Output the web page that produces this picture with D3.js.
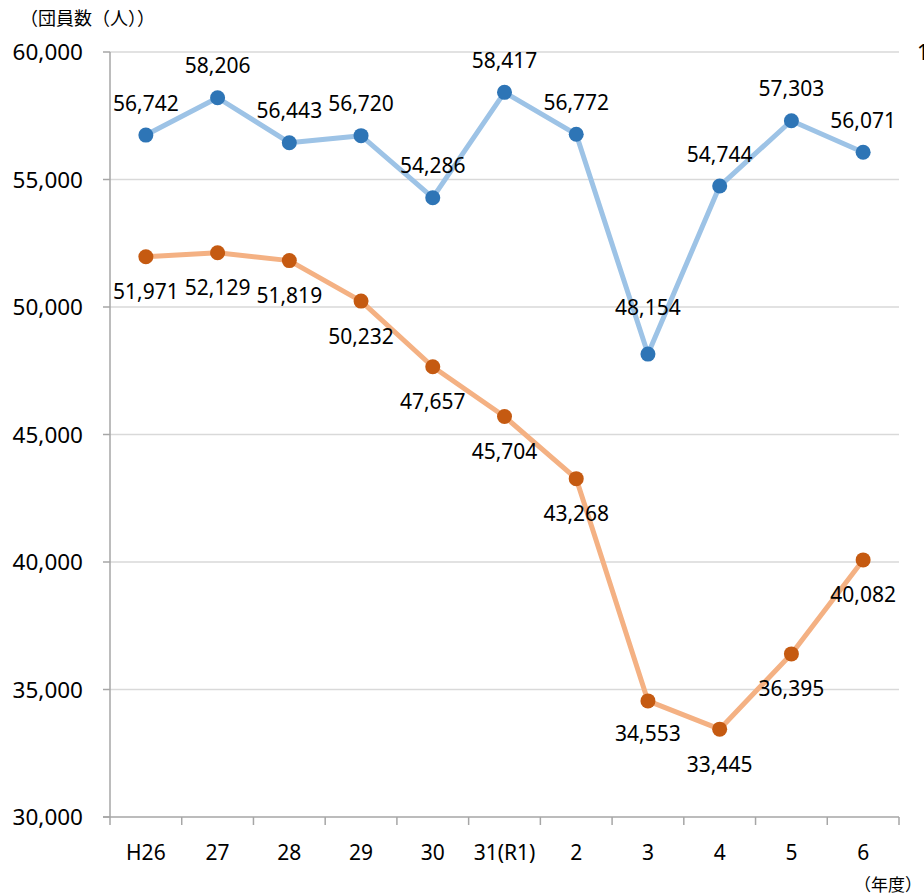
<!DOCTYPE html>
<html>
<head>
<meta charset="utf-8">
<script src="https://cdn.jsdelivr.net/npm/d3@7"></script>
<style>
    body { margin: 0; background: #ffffff; overflow: hidden; }
    text { font-family: "Noto Sans", "Noto Sans CJK JP", sans-serif; fill: #000000; }
</style>
</head>
<body>
<svg id="chartSVG" width="924" height="895"></svg>
<script>
var years = ["H26", "27", "28", "29", "30", "31(R1)", "2", "3", "4", "5", "6"];
var blueValues = [56742, 58206, 56443, 56720, 54286, 58417, 56772, 48154, 54744, 57303, 56071];
var orangeValues = [51971, 52129, 51819, 50232, 47657, 45704, 43268, 34553, 33445, 36395, 40082];
var yTicks = [30000, 35000, 40000, 45000, 50000, 55000, 60000];

var svg = d3.select("#chartSVG");
var venstre = 110, hoyre = 899, topp = 52, bunn = 817;

var x = d3.scaleBand().domain(years).range([venstre, hoyre]).paddingInner(0).paddingOuter(0);
var y = d3.scaleLinear().domain([30000, 60000]).range([bunn, topp]);
var fmt = d3.format(",");
var midt = function(d) { return x(d) + x.bandwidth() / 2; };

// gridlinjer
svg.selectAll(".grid")
    .data(yTicks.slice(1))
    .enter().append("line")
    .attr("x1", venstre)
    .attr("x2", hoyre)
    .attr("y1", function(d) { return y(d); })
    .attr("y2", function(d) { return y(d); })
    .attr("stroke", "#d9d9d9")
    .attr("stroke-width", 1.5);

// y-akse
svg.append("line")
    .attr("x1", venstre).attr("x2", venstre)
    .attr("y1", topp).attr("y2", bunn)
    .attr("stroke", "#a6a6a6").attr("stroke-width", 1.5);

svg.selectAll(".ytick")
    .data(yTicks)
    .enter().append("line")
    .attr("x1", venstre - 7).attr("x2", venstre)
    .attr("y1", function(d) { return y(d); })
    .attr("y2", function(d) { return y(d); })
    .attr("stroke", "#a6a6a6").attr("stroke-width", 1.5);

svg.selectAll(".ylabel")
    .data(yTicks)
    .enter().append("text")
    .attr("x", 83)
    .attr("y", function(d) { return y(d); })
    .attr("dy", "0.36em")
    .attr("text-anchor", "end")
    .style("font-size", "22.5px")
    .text(function(d) { return fmt(d); });

// x-akse
svg.append("line")
    .attr("x1", venstre - 7).attr("x2", hoyre)
    .attr("y1", bunn).attr("y2", bunn)
    .attr("stroke", "#a6a6a6").attr("stroke-width", 1.5);

var grenser = years.map(function(d) { return x(d); }).concat([x.range()[1]]);
svg.selectAll(".xtick")
    .data(grenser)
    .enter().append("line")
    .attr("x1", function(d) { return d; })
    .attr("x2", function(d) { return d; })
    .attr("y1", bunn).attr("y2", bunn + 8)
    .attr("stroke", "#a6a6a6").attr("stroke-width", 1.5);

svg.selectAll(".xlabel")
    .data(years)
    .enter().append("text")
    .attr("x", midt)
    .attr("y", 860)
    .attr("text-anchor", "middle")
    .style("font-size", "21px")
    .text(function(d) { return d; });

// aksetitler
svg.append("text")
    .attr("x", 20).attr("y", 25)
    .style("font-size", "18px")
    .text("（団員数（人））");

svg.append("text")
    .attr("x", 922).attr("y", 891)
    .attr("text-anchor", "end")
    .style("font-size", "17px")
    .text("（年度）");

svg.append("text")
    .attr("x", 917).attr("y", 52)
    .attr("dy", "0.36em")
    .style("font-size", "21px")
    .text("1");

// tegner en serie med linje, punkter og verdier
function tegnSerie(verdier, linjeFarge, punktFarge, forskyvning, ekstra) {
    var linje = d3.line()
        .x(function(d, i) { return midt(years[i]); })
        .y(function(d) { return y(d); });

    svg.append("path")
        .datum(verdier)
        .attr("d", linje)
        .attr("fill", "none")
        .attr("stroke", linjeFarge)
        .attr("stroke-width", 5)
        .attr("stroke-linejoin", "round");

    svg.selectAll(null)
        .data(verdier)
        .enter().append("circle")
        .attr("cx", function(d, i) { return midt(years[i]); })
        .attr("cy", function(d) { return y(d); })
        .attr("r", 7.5)
        .attr("fill", punktFarge);

    svg.selectAll(null)
        .data(verdier)
        .enter().append("text")
        .attr("x", function(d, i) { return midt(years[i]); })
        .attr("y", function(d, i) { return y(d) + forskyvning + (ekstra[i] || 0); })
        .attr("dy", "0.36em")
        .attr("text-anchor", "middle")
        .style("font-size", "21px")
        .text(function(d) { return fmt(d); });
}

// "48,154" er flyttet litt lenger opp i originalen
tegnSerie(blueValues, "#9dc3e6", "#2e75b6", -32, {7: -15});
tegnSerie(orangeValues, "#f4b183", "#c55a11", 35, {7: -2});
</script>
</body>
</html>
